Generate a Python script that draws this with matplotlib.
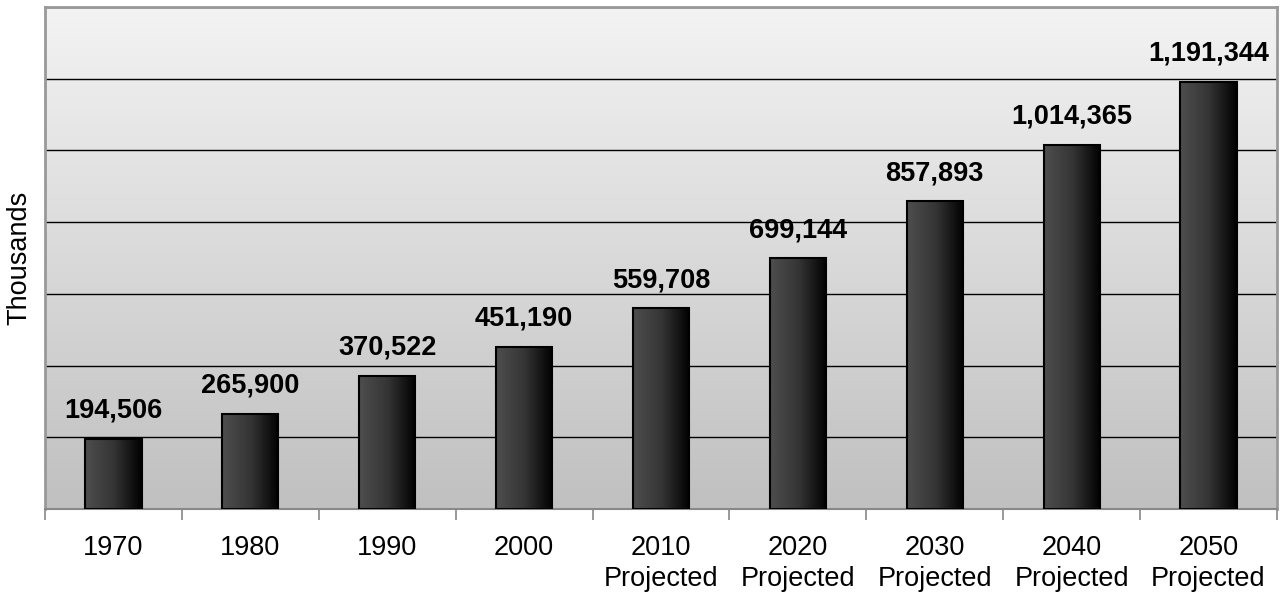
import numpy as np
import matplotlib
matplotlib.use("Agg")
import matplotlib.pyplot as plt
from matplotlib.colors import LinearSegmentedColormap

categories = ["1970", "1980", "1990", "2000", "2010\nProjected", "2020\nProjected",
              "2030\nProjected", "2040\nProjected", "2050\nProjected"]
values = [194506, 265900, 370522, 451190, 559708, 699144, 857893, 1014365, 1191344]
value_labels = ["194,506", "265,900", "370,522", "451,190", "559,708", "699,144",
                "857,893", "1,014,365", "1,191,344"]

plt.rcParams['font.family'] = ['Liberation Sans', 'DejaVu Sans']

fig = plt.figure(figsize=(12.81, 5.96), dpi=100)
ax = fig.add_axes([45/1281, 87/596, (1277-45)/1281, (509-7)/596])

x = np.arange(len(categories))
ax.set_xlim(-0.5, len(categories) - 0.5)
ax.set_ylim(0, 1400000)

# background vertical gradient
bg_cmap = LinearSegmentedColormap.from_list("bg", ["#c0c0c0", "#f3f3f3"])
grad = np.linspace(0, 1, 256).reshape(-1, 1)
ax.imshow(grad, cmap=bg_cmap, aspect='auto', extent=[0, 1, 0, 1], origin='lower',
          transform=ax.transAxes, zorder=0)

# gridlines
for gy in range(200000, 1400001, 200000):
    ax.axhline(gy, color='black', lw=1.0, zorder=1)

bar_cmap = LinearSegmentedColormap.from_list("bar", ["#4e4e4e", "#353535", "#000000"])
hgrad = np.linspace(0, 1, 256).reshape(1, -1)
width = 0.41
bars = ax.bar(x, values, width=width, color='none', edgecolor='black', linewidth=1.5, zorder=3)
for b in bars:
    x0, y0 = b.get_x(), b.get_y()
    w, h = b.get_width(), b.get_height()
    im = ax.imshow(hgrad, cmap=bar_cmap, aspect='auto', extent=[x0, x0 + w, y0, y0 + h],
                   origin='lower', zorder=2)
    im.set_clip_path(b)

for xi, v, lab in zip(x, values, value_labels):
    ax.annotate(lab, (xi, v), xytext=(0, 11), textcoords='offset points', ha='center',
                va='bottom', fontsize=19.5, fontweight='bold', color='black', zorder=4)

ax.set_xticks(np.arange(-0.5, len(categories), 1.0))
ax.set_xticklabels([])
ax.set_xticks(x, minor=True)
ax.set_xticklabels(categories, minor=True, fontsize=19.5, linespacing=1.22)
ax.tick_params(axis='x', which='major', length=8, color='#888888', width=1.2, direction='out')
ax.tick_params(axis='x', which='minor', length=0, pad=19)
ax.set_yticks([])
ax.set_ylabel("Thousands", fontsize=19.5, labelpad=9)

for s in ['top', 'right', 'left']:
    ax.spines[s].set_color('#999999')
    ax.spines[s].set_linewidth(2)
ax.spines['bottom'].set_color('#888888')
ax.spines['bottom'].set_linewidth(1.5)

fig.savefig("out.png", dpi=100)
